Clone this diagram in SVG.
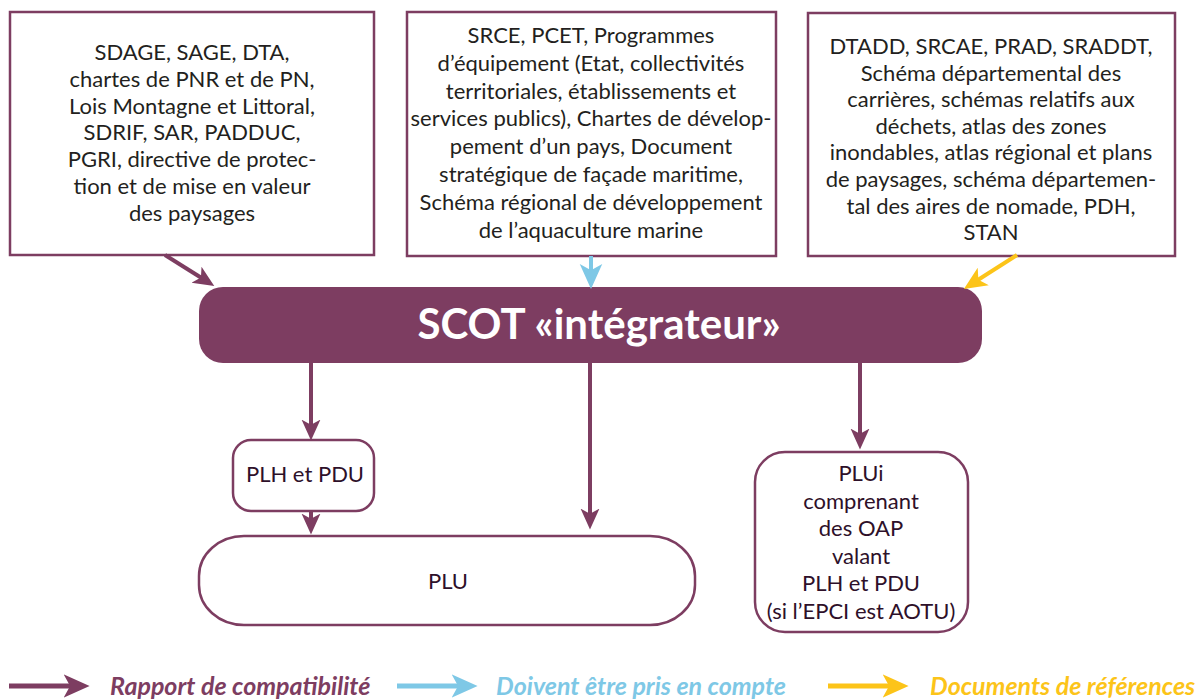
<svg xmlns="http://www.w3.org/2000/svg" width="1197" height="700" viewBox="0 0 1197 700">
<style>
.box{fill:#fff;stroke:#7d3d61;stroke-width:2.5}
.t{font-family:Lato,"Liberation Sans",sans-serif;font-size:22px;fill:#231f20;text-anchor:middle}
.tb{font-family:Lato,"Liberation Sans",sans-serif;font-size:22px;fill:#2e1029;text-anchor:middle}
.pl{stroke:#7d3d61;stroke-width:4;fill:none}
.bl{stroke:#7ec8e6;stroke-width:4;fill:none}
.yl{stroke:#fcc419;stroke-width:4;fill:none}
.leg{font-family:Lato,"Liberation Sans",sans-serif;font-size:25px;font-weight:bold;font-style:italic}
</style>
<defs>
<marker id="mp" viewBox="0 0 20 20" refX="8" refY="10" markerWidth="21" markerHeight="21" markerUnits="userSpaceOnUse" orient="auto"><path d="M0,1 L20,10 L0,19 L5,10 z" fill="#7d3d61"/></marker>
<marker id="mb" viewBox="0 0 20 20" refX="8" refY="10" markerWidth="25" markerHeight="25" markerUnits="userSpaceOnUse" orient="auto"><path d="M0,1 L20,10 L0,19 L5,10 z" fill="#7ec8e6"/></marker>
<marker id="my" viewBox="0 0 20 20" refX="8" refY="10" markerWidth="23" markerHeight="23" markerUnits="userSpaceOnUse" orient="auto"><path d="M0,1 L20,10 L0,19 L5,10 z" fill="#fcc419"/></marker>
<marker id="mpl" viewBox="0 0 20 20" refX="8" refY="10" markerWidth="26" markerHeight="26" markerUnits="userSpaceOnUse" orient="auto"><path d="M0,1 L20,10 L0,19 L5,10 z" fill="#7d3d61"/></marker>
<marker id="mbl" viewBox="0 0 20 20" refX="8" refY="10" markerWidth="26" markerHeight="26" markerUnits="userSpaceOnUse" orient="auto"><path d="M0,1 L20,10 L0,19 L5,10 z" fill="#7ec8e6"/></marker>
<marker id="myl" viewBox="0 0 20 20" refX="8" refY="10" markerWidth="26" markerHeight="26" markerUnits="userSpaceOnUse" orient="auto"><path d="M0,1 L20,10 L0,19 L5,10 z" fill="#fcc419"/></marker>
</defs>
<rect width="1197" height="700" fill="#fff"/>

<g id="box-sdage">
<rect class="box" x="10" y="12" width="364" height="243"/>
<text class="t" x="192" y="60">SDAGE, SAGE, DTA,</text>
<text class="t" x="192" y="86.8">chartes de  PNR et de PN,</text>
<text class="t" x="192" y="113.6">Lois Montagne et Littoral,</text>
<text class="t" x="192" y="140.4">SDRIF, SAR, PADDUC,</text>
<text class="t" x="192" y="167.2">PGRI, directive de protec-</text>
<text class="t" x="192" y="194">tion et de mise en valeur</text>
<text class="t" x="192" y="220.8">des paysages</text>
</g>

<g id="box-srce">
<rect class="box" x="407" y="12" width="369" height="244"/>
<text class="t" x="591" y="43">SRCE, PCET, Programmes</text>
<text class="t" x="591" y="70.8">d’équipement (Etat, collectivités</text>
<text class="t" x="591" y="98.6">territoriales, établissements et</text>
<text class="t" x="591" y="126.4">services publics), Chartes de dévelop-</text>
<text class="t" x="591" y="154.2">pement d’un pays, Document</text>
<text class="t" x="591" y="182">stratégique de façade maritime,</text>
<text class="t" x="591" y="209.8">Schéma régional de développement</text>
<text class="t" x="591" y="237.6">de l’aquaculture marine</text>
</g>

<g id="box-dtadd">
<rect class="box" x="808" y="13" width="367" height="243"/>
<text class="t" x="991" y="54">DTADD, SRCAE, PRAD, SRADDT,</text>
<text class="t" x="991" y="80.6">Schéma départemental des</text>
<text class="t" x="991" y="107.2">carrières, schémas relatifs aux</text>
<text class="t" x="991" y="133.8">déchets, atlas des zones</text>
<text class="t" x="991" y="160.4">inondables, atlas régional et plans</text>
<text class="t" x="991" y="187">de paysages, schéma départemen-</text>
<text class="t" x="991" y="213.6">tal des aires de nomade, PDH,</text>
<text class="t" x="991" y="240.2">STAN</text>
</g>

<g id="scot">
<rect x="199" y="287" width="783" height="76" rx="24" fill="#7d3d61"/>
<text x="599" y="339" font-family="Lato,'Liberation Sans',sans-serif" font-size="42" font-weight="bold" fill="#fff" text-anchor="middle">SCOT «intégrateur»</text>
</g>

<g id="plh">
<rect class="box" x="233" y="440" width="141" height="71" rx="18"/>
<text class="tb" x="305" y="482">PLH et PDU</text>
</g>

<g id="plu">
<rect class="box" x="199" y="536" width="496" height="89" rx="45" ry="40"/>
<text class="tb" x="448" y="589" font-size="23">PLU</text>
</g>

<g id="plui">
<rect class="box" x="755" y="452" width="213" height="180" rx="30"/>
<text class="tb" x="861" y="481">PLUi</text>
<text class="tb" x="861" y="508.6">comprenant</text>
<text class="tb" x="861" y="536.2">des OAP</text>
<text class="tb" x="861" y="563.8">valant</text>
<text class="tb" x="861" y="591.4">PLH et PDU</text>
<text class="tb" x="861" y="619">(si l’EPCI est AOTU)</text>
</g>

<g id="connectors">
<line class="pl" x1="165" y1="255" x2="203.6" y2="279.3" marker-end="url(#mp)"/>
<line class="bl" x1="591" y1="256" x2="591" y2="274" marker-end="url(#mb)"/>
<line class="yl" x1="1017" y1="255" x2="975.5" y2="281.5" marker-end="url(#my)"/>
<line class="pl" x1="311" y1="363" x2="311" y2="428" marker-end="url(#mp)"/>
<line class="pl" x1="590" y1="363" x2="590" y2="517" marker-end="url(#mp)"/>
<line class="pl" x1="860" y1="363" x2="860" y2="437" marker-end="url(#mp)"/>
<line class="pl" x1="311" y1="511" x2="311" y2="522" marker-end="url(#mp)"/>
</g>

<g id="legend">
<line x1="9" y1="686" x2="74" y2="686" stroke="#7d3d61" stroke-width="5" marker-end="url(#mpl)"/>
<text class="leg" x="110" y="695" fill="#7d3d61">Rapport de compatibilité</text>
<line x1="397" y1="686" x2="462" y2="686" stroke="#7ec8e6" stroke-width="5" marker-end="url(#mbl)"/>
<text class="leg" x="496" y="695" fill="#7ec8e6">Doivent être pris en compte</text>
<line x1="828" y1="686" x2="893" y2="686" stroke="#fcc419" stroke-width="5" marker-end="url(#myl)"/>
<text class="leg" x="930" y="695" fill="#fcc419">Documents de références</text>
</g>
</svg>
